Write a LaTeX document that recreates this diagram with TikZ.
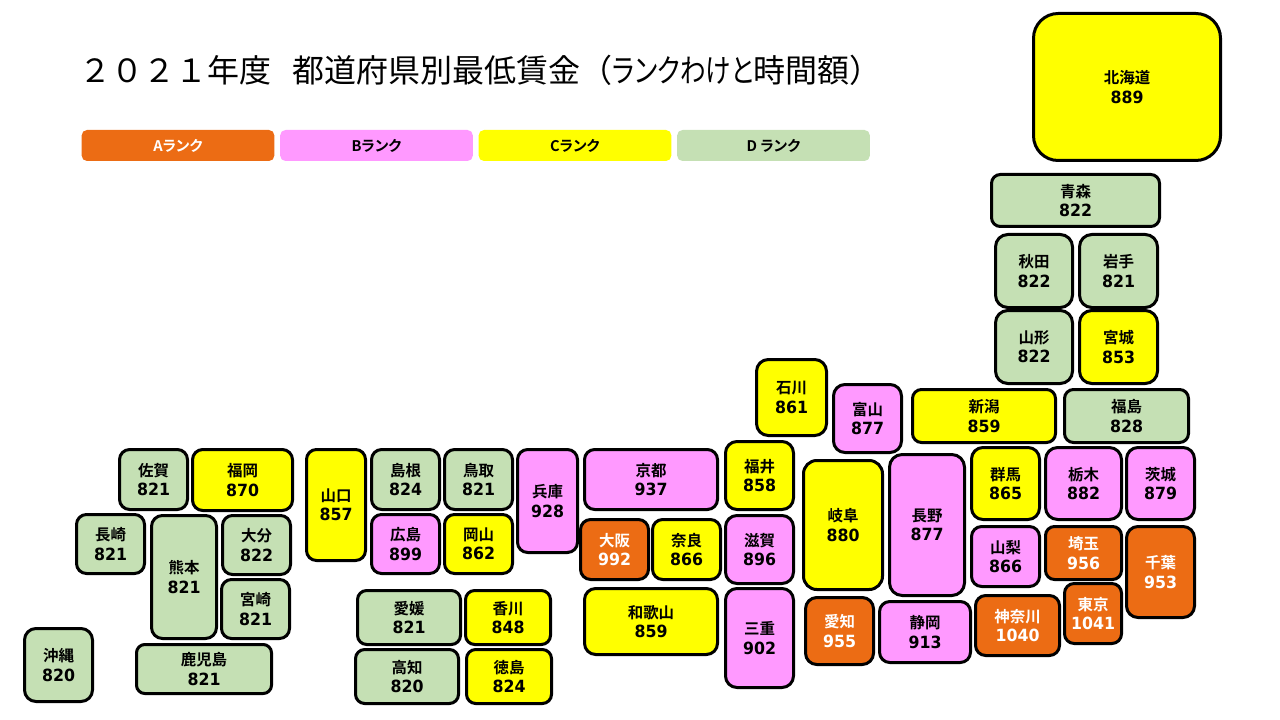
\documentclass[tikz,border=0pt]{standalone}
\usepackage{fontspec}
\setmainfont{Noto Sans CJK JP}
\newfontfamily\jpregular{Noto Sans CJK JP}
\newfontfamily\jpkana[RawFeature=+palt,FakeStretch=0.8]{Noto Sans CJK JP}
\newfontfamily\jpbold[BoldFont={Noto Sans CJK JP Bold}]{Noto Sans CJK JP}
\newfontfamily\jplegend[BoldFont={Noto Sans CJK JP Bold},RawFeature=+palt]{Noto Sans CJK JP}
\newfontfamily\numbold[FakeStretch=0.94]{DejaVu Sans Bold}
\definecolor{ranka}{HTML}{EC6C14}
\definecolor{rankb}{HTML}{FF99FF}
\definecolor{rankc}{HTML}{FFFF00}
\definecolor{rankd}{HTML}{C5E0B4}
\newcommand{\pref}[2]{{\bfseries\jpbold #1}\\{\numbold\fontsize{12.6pt}{14.4pt}\selectfont #2}}
\tikzset{
	pref/.style 2 args={draw=black, line width=2.25pt, align=center, inner sep=0pt,
		font=\fontsize{11.6pt}{14.4pt}\selectfont,
		minimum width={(#1-1)*0.75pt}, minimum height={(#2-1)*0.75pt},
		rounded corners={min(#1,#2)/6*0.75pt}},
	a/.style={fill=ranka, text=white},
	b/.style={fill=rankb},
	c/.style={fill=rankc},
	d/.style={fill=rankd},
	legend/.style={minimum width=144.5pt, minimum height=23.25pt, inner sep=0pt, rounded corners=4pt,
		font=\jplegend\bfseries\fontsize{11pt}{13pt}\selectfont}
}

\begin{document}
\begin{tikzpicture}[x=0.75pt,y=-0.75pt]
\useasboundingbox (0,0) rectangle (1280,720);

\node[anchor=west, inner sep=0pt, font=\fontsize{24pt}{28pt}\selectfont] (title) at (79.5,70)
	{\jpregular ２０２１年度\hspace{4.75pt}\jplegend\ \ \jpregular 都道府県別最低賃金（\jpkana ランクわけと\jpregular 時間額）};

\node[legend, a] (legendA) at (178,145.5) {Aランク};
\node[legend, b] (legendB) at (376.5,145.5) {Bランク};
\node[legend, c] (legendC) at (575,145.5) {Cランク};
\node[legend, d] (legendD) at (773.5,145.5) {D ランク};

% Tohoku, Hokkaido
\node[pref={188}{148}, c] (hokkaido) at (1127,87) {\pref{北海道}{889}};
\node[pref={169}{53}, d] (aomori) at (1075.5,200.5) {\pref{青森}{822}};
\node[pref={78}{74}, d] (akita) at (1034,271) {\pref{秋田}{822}};
\node[pref={79}{74}, d] (iwate) at (1118.5,271) {\pref{岩手}{821}};
\node[pref={78}{74}, d] (yamagata) at (1034,347) {\pref{山形}{822}};
\node[pref={79}{74}, c] (miyagi) at (1118.5,347) {\pref{宮城}{853}};
\node[pref={125}{54}, d] (fukushima) at (1126.5,416) {\pref{福島}{828}};

% Kanto
\node[pref={69}{73}, c] (gunma) at (1005.5,483.5) {\pref{群馬}{865}};
\node[pref={77}{73}, b] (tochigi) at (1083.5,483.5) {\pref{栃木}{882}};
\node[pref={69}{73}, b] (ibaraki) at (1160.5,483.5) {\pref{茨城}{879}};
\node[pref={77}{54}, a] (saitama) at (1083.5,553) {\pref{埼玉}{956}};
\node[pref={69}{92}, a] (chiba) at (1160.5,572) {\pref{千葉}{953}};
\node[pref={58}{61}, a] (tokyo) at (1093,613.5) {\pref{東京}{1041}};
\node[pref={85}{61}, a] (kanagawa) at (1017.5,625.5) {\pref{神奈川}{1040}};

% Chubu
\node[pref={144}{54}, c] (niigata) at (984,416) {\pref{新潟}{859}};
\node[pref={69}{69}, b] (toyama) at (867.5,418.5) {\pref{富山}{877}};
\node[pref={71}{77}, c] (ishikawa) at (791.5,397.5) {\pref{石川}{861}};
\node[pref={69}{69}, c] (fukui) at (759.5,475.5) {\pref{福井}{858}};
\node[pref={80}{130}, c] (gifu) at (843,525) {\pref{岐阜}{880}};
\node[pref={76}{142}, b] (nagano) at (927,525) {\pref{長野}{877}};
\node[pref={69}{61}, b] (yamanashi) at (1005.5,556.5) {\pref{山梨}{866}};
\node[pref={69}{68}, a] (aichi) at (839.5,631) {\pref{愛知}{955}};
\node[pref={92}{62}, b] (shizuoka) at (925,632) {\pref{静岡}{913}};

% Kinki
\node[pref={134}{61}, b] (kyoto) at (651,479.5) {\pref{京都}{937}};
\node[pref={61}{104}, b] (hyogo) at (547.5,501) {\pref{兵庫}{928}};
\node[pref={69}{61}, a] (osaka) at (614.5,549.5) {\pref{大阪}{992}};
\node[pref={69}{61}, c] (nara) at (686.5,549.5) {\pref{奈良}{866}};
\node[pref={69}{69}, b] (shiga) at (759.5,549.5) {\pref{滋賀}{896}};
\node[pref={134}{67}, c] (wakayama) at (651,621.5) {\pref{和歌山}{859}};
\node[pref={69}{100}, b] (mie) at (759.5,638) {\pref{三重}{902}};

% Chugoku, Shikoku
\node[pref={60}{112}, c] (yamaguchi) at (336,505) {\pref{山口}{857}};
\node[pref={69}{61}, d] (shimane) at (405.5,479.5) {\pref{島根}{824}};
\node[pref={69}{61}, d] (tottori) at (478.5,479.5) {\pref{鳥取}{821}};
\node[pref={69}{60}, b] (hiroshima) at (405.5,544) {\pref{広島}{899}};
\node[pref={69}{60}, c] (okayama) at (478.5,544) {\pref{岡山}{862}};
\node[pref={104}{55}, d] (ehime) at (409,617.5) {\pref{愛媛}{821}};
\node[pref={86}{55}, c] (kagawa) at (508,617.5) {\pref{香川}{848}};
\node[pref={104}{55}, d] (kochi) at (407,676.5) {\pref{高知}{820}};
\node[pref={86}{55}, c] (tokushima) at (509,676.5) {\pref{徳島}{824}};

% Kyushu, Okinawa
\node[pref={69}{61}, d] (saga) at (153.5,479.5) {\pref{佐賀}{821}};
\node[pref={101}{62}, c] (fukuoka) at (242.5,480) {\pref{福岡}{870}};
\node[pref={69}{60}, d] (nagasaki) at (110.5,544) {\pref{長崎}{821}};
\node[pref={66}{124}, d] (kumamoto) at (184,577) {\pref{熊本}{821}};
\node[pref={69}{60}, d] (oita) at (256.5,545) {\pref{大分}{822}};
\node[pref={69}{60}, d] (miyazaki) at (255.5,609) {\pref{宮崎}{821}};
\node[pref={136}{50}, d] (kagoshima) at (204,669) {\pref{鹿児島}{821}};
\node[pref={69}{74}, d] (okinawa) at (58.5,665) {\pref{沖縄}{820}};
\end{tikzpicture}
\end{document}
